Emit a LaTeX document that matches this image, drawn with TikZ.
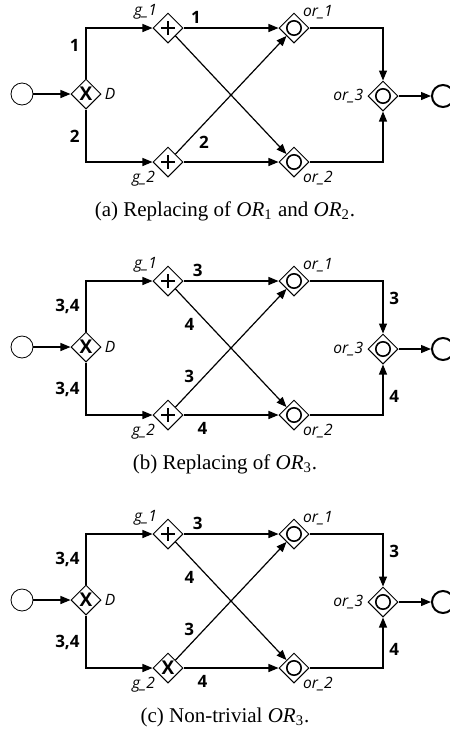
\documentclass[tikz,border=0pt]{standalone}
\usepackage{fontspec}
\setmainfont{Liberation Serif}
\setsansfont{Open Sans}
\usetikzlibrary{arrows.meta,positioning,shapes.geometric}
\tikzset{
  startev/.style={circle, draw, line width=0.4pt, minimum size=11pt, inner sep=0pt},
  endev/.style={circle, draw, line width=1pt, minimum size=11pt, inner sep=0pt},
  gw/.style={diamond, draw, line width=0.5pt, fill=white, minimum size=15pt, inner sep=0pt},
  xorgw/.style={gw, font=\sffamily\bfseries\fontsize{9.5}{9.5}\selectfont},
  andgw/.style={gw, path picture={
    \draw[line width=1.1pt] ([xshift=-3.3pt]path picture bounding box.center) -- ([xshift=3.3pt]path picture bounding box.center);
    \draw[line width=1.1pt] ([yshift=-3.3pt]path picture bounding box.center) -- ([yshift=3.3pt]path picture bounding box.center);}},
  orgw/.style={gw, path picture={
    \draw[line width=0.8pt] (path picture bounding box.center) circle (3.6pt);}},
  gwname/.style={font=\sffamily\itshape\fontsize{7.8}{8}\selectfont, inner sep=0.5pt},
  num/.style={font=\sffamily\bfseries\fontsize{8.5}{9}\selectfont, inner sep=1pt},
  flow/.style={-{Triangle[length=5pt,width=4pt]}, line width=0.6pt},
}

\begin{document}
\begin{tikzpicture}[x=0.5pt, y=-0.5pt, node distance=30pt, on grid]
  \useasboundingbox (0,0) rectangle (450,735);
  % the three variants share one skeleton
  \foreach \p/\dy/\gt/\gx/\capt in {
      a/0/andgw/{}/{(a) Replacing of \textit{OR}\textsubscript{1} and \textit{OR}\textsubscript{2}.},
      b/253/andgw/{}/{(b) Replacing of \textit{OR}\textsubscript{3}.},
      c/506/xorgw/X/{(c) Non-trivial \textit{OR}\textsubscript{3}.}} {
    \begin{scope}[shift={(0,\dy)}, name prefix=\p-]
      \node[startev] (s) at (22,94) {};
      \node[xorgw, right=32pt of s, label={[gwname,xshift=1pt]right:D}] (D) {X};
      \node[andgw, above right=33pt and 41pt of D, label={[gwname,xshift=-1pt]above left:g\_1}] (g1) {};
      \node[\gt, below right=34pt and 41pt of D, label={[gwname,xshift=-2pt]below left:g\_2}] (g2) {\gx};
      \node[orgw, right=63pt of g1, label={[gwname]above right:or\_1}] (or1) {};
      \node[orgw, right=63pt of g2, label={[gwname]below right:or\_2}] (or2) {};
      \node[orgw, below right=34pt and 44.5pt of or1, label={[gwname,xshift=-1.5pt]left:or\_3}] (or3) {};
      \node[endev, right=30pt of or3] (e) {};
      \draw[flow] (s) -- (D);
      \draw[flow] (D) |- (g1);
      \draw[flow] (D) |- (g2);
      \draw[flow] (g1) -- (or1);
      \draw[flow] (g1) -- (or2);
      \draw[flow] (g2) -- (or1);
      \draw[flow] (g2) -- (or2);
      \draw[flow] (or1) -| (or3);
      \draw[flow] (or2) -| (or3);
      \draw[flow] (or3) -- (e);
      \node[font=\fontsize{10.5}{12}\selectfont] (cap) at (225,211) {\capt};
    \end{scope}
  }
  % branch counts, variant a
  \path (a-D) |- (a-g1) node[num, pos=.33, left=2pt] {1};
  \path (a-D) |- (a-g2) node[num, pos=.26, left=2pt] {2};
  \path (a-g1) -- (a-or1) node[num, pos=.13, above=1pt] {1};
  \path (a-g2) -- (a-or1) node[num, pos=.1, right=5pt] {2};
  % branch counts, variants b and c
  \foreach \p in {b,c} {
    \path (\p-D) |- (\p-g1) node[num, pos=.245, left=2pt] {3,4};
    \path (\p-D) |- (\p-g2) node[num, pos=.26, left=2pt] {3,4};
    \path (\p-g1) -- (\p-or1) node[num, pos=.15, above=1pt] {3};
    \path (\p-g1) -- (\p-or2) node[num, pos=.3, left=6pt] {4};
    \path (\p-g2) -- (\p-or1) node[num, pos=.26, left=4pt] {3};
    \path (\p-g2) -- (\p-or2) node[num, pos=.2, below=2.5pt] {4};
    \path (\p-or1) -| (\p-or3) node[num, pos=.67, right=2pt] {3};
    \path (\p-or2) -| (\p-or3) node[num, pos=.68, right=2pt] {4};
  }
\end{tikzpicture}
\end{document}
